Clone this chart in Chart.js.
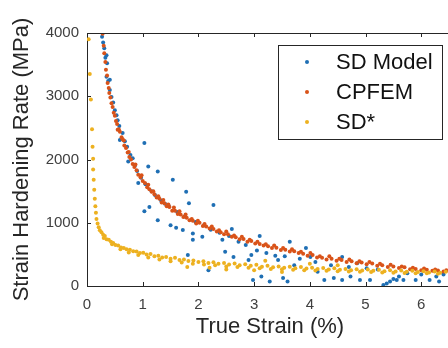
<!DOCTYPE html>
<html>
<head>
<meta charset="utf-8">
<script src="https://cdn.jsdelivr.net/npm/chart.js@4/dist/chart.umd.min.js"></script>
<style>
  html, body { margin: 0; padding: 0; overflow: hidden; background: #fff; }
  #wrap { width: 457px; height: 348px; }
</style>
</head>
<body>
<div id="wrap"><canvas id="c" width="457" height="348"></canvas></div>
<script>
// tick labels
const xTicks = [0, 1, 2, 3, 4, 5, 6];
const yTicks = [0, 1000, 2000, 3000, 4000];
const seriesNames = ['SD Model', 'CPFEM', 'SD*'];

// SD Model (blue)
const sdModelX = [0.27,0.29,0.31,0.33,0.35,0.36,0.35,0.38,0.41,0.41,0.44,0.47,0.50,0.53,0.55,0.58,0.59,0.64,0.68,0.72,
  0.74,0.78,0.82,0.86,0.90,0.92,0.97,1.03,1.05,1.10,1.12,1.03,1.16,1.22,1.27,1.27,1.33,1.40,1.47,1.50,
  1.54,1.60,1.62,1.72,1.75,1.78,1.83,1.81,1.90,1.90,1.95,2.07,2.10,2.18,2.22,2.27,2.38,2.43,2.48,2.55,
  2.60,2.63,2.72,2.85,2.90,2.95,2.98,3.05,3.10,3.13,3.22,3.28,3.38,3.43,3.52,3.55,3.60,3.64,3.72,3.82,
  3.93,4.01,4.10,4.14,4.26,4.38,4.43,4.58,4.58,4.70,4.73,4.85,4.90,5.02,5.08,5.22,5.32,5.38,5.44,5.50,
  5.56,5.60,5.68,5.75,5.90,6.00,6.15,6.27,6.32,6.40];
const sdModelY = [3940,3850,3760,3610,3650,3520,3310,3240,3260,3100,2990,2900,2780,2700,2620,2530,2310,2420,2290,2200,
  1970,2070,2020,1900,1820,1630,1710,2260,1610,1890,1250,1180,1500,1440,1810,1040,1350,1300,1260,960,
  1680,920,1170,885,1100,1490,1310,490,830,730,1010,780,960,250,890,1280,840,730,540,790,
  900,460,700,650,410,490,95,560,790,150,520,70,480,410,125,470,70,700,330,430,
  600,460,380,225,95,330,125,95,460,300,150,360,95,280,95,260,15,40,70,110,
  95,150,95,200,95,180,95,150,70,180];

// CPFEM (red)
const cpfemX = [0.28,0.30,0.31,0.33,0.34,0.36,0.37,0.39,0.40,0.42,0.44,0.46,0.48,0.50,0.52,0.54,0.57,0.59,0.62,0.64,
  0.67,0.70,0.73,0.76,0.79,0.82,0.85,0.89,0.92,0.96,1.00,1.04,1.08,1.12,1.16,1.21,1.25,1.30,1.34,1.39,
  1.43,1.48,1.53,1.58,1.63,1.68,1.73,1.79,1.84,1.90,1.96,2.02,2.08,2.14,2.20,2.27,2.33,2.40,2.46,2.53,
  2.60,2.67,2.74,2.81,2.88,2.95,3.02,3.10,3.17,3.25,3.32,3.40,3.48,3.56,3.64,3.72,3.80,3.88,3.96,4.05,
  4.13,4.22,4.30,4.39,4.48,4.57,4.66,4.75,4.84,4.93,5.02,5.12,5.21,5.30,5.40,5.50,5.60,5.70,5.80,5.90,
  6.00,6.10,6.20,6.30,6.40,6.50,
  0.55,0.66,0.75,0.87,0.98,1.10,1.19,1.28,1.37,1.46,1.56,1.66,1.77,1.88,1.99,2.11,2.24,2.37,2.50,2.64,
  2.78,2.92,3.06,3.21,3.36,3.52,3.68,3.84,4.01,4.18,4.35,4.53,4.71,4.89,5.07,5.26,5.45,5.65,5.85,6.05,
  6.25,6.45];
const cpfemY = [3990,3800,3680,3540,3420,3330,3210,3130,3050,2980,2890,2830,2740,2690,2610,2560,2480,2440,2350,2320,
  2220,2180,2110,2040,2000,1930,1880,1830,1760,1720,1660,1630,1560,1530,1490,1450,1400,1380,1320,1310,
  1260,1250,1190,1190,1140,1130,1090,1080,1040,1030,990,1000,950,940,910,900,860,850,820,820,
  780,770,740,745,700,710,670,665,640,630,600,605,570,575,545,550,520,510,480,490,
  450,445,420,430,400,410,380,390,360,370,345,355,320,330,300,310,285,295,265,270,
  250,255,240,245,230,235,
  2470,2300,2120,1920,1750,1600,1500,1420,1360,1290,1240,1180,1130,1060,1030,980,940,880,860,800,
  780,730,700,660,640,600,580,540,520,470,470,430,420,390,380,350,335,310,290,275,
  260,250];

// SD* (yellow)
const sdStarX = [0.03,0.05,0.07,0.09,0.10,0.11,0.11,0.12,0.13,0.14,0.15,0.16,0.17,0.19,0.21,0.23,0.26,0.29,0.32,0.35,
  0.39,0.43,0.47,0.51,0.56,0.61,0.66,0.71,0.77,0.83,0.89,0.95,1.01,1.07,1.14,1.21,1.28,1.35,1.42,1.50,
  1.58,1.66,1.74,1.82,1.91,2.00,2.09,2.18,2.27,2.36,2.46,2.55,2.65,2.74,2.84,2.94,3.04,3.14,3.24,3.34,
  3.44,3.54,3.64,3.74,3.84,3.94,4.04,4.14,4.24,4.34,4.44,4.54,4.64,4.74,4.84,4.94,5.04,5.14,5.24,5.34,
  5.44,5.54,5.64,5.74,5.84,5.94,6.04,6.14,6.24,6.34,6.44,1.80,2.20,2.50,3.00,3.20,3.50,4.00,4.50,
  0.30,0.45,0.60,0.75,0.92,1.10,1.30,1.50,1.70,1.90,2.10,2.30,2.50,2.70,2.90,3.10,3.30,3.50,3.70,3.90,
  4.10,4.30,4.50,4.70,4.90,5.10,5.30,5.50,5.70,5.90,6.10,6.30];
const sdStarY = [3900,3350,2950,2480,2200,2010,1840,1680,1520,1380,1260,1160,1060,990,930,880,850,810,790,740,
  730,700,680,650,640,610,600,580,575,550,545,520,525,500,505,470,480,450,460,430,
  445,410,420,395,405,380,390,365,375,350,365,340,355,330,345,320,335,305,320,295,
  310,290,305,280,300,275,290,270,285,260,280,255,270,250,265,245,260,240,255,235,
  250,230,245,225,240,220,235,215,230,210,225,300,290,260,250,400,220,350,330,
  760,660,580,530,490,450,420,390,370,350,340,330,310,300,290,280,270,265,255,250,
  245,240,235,230,225,220,215,210,205,200,200,195];

const xMax = 6.57;
const family = "'Liberation Sans', Arial, Helvetica, sans-serif";
const colors = ['#1f6fb4', '#d95319', '#edb120'];
const pts = (xs, ys) => xs.map((x, i) => ({ x: x, y: ys[i] }));

// inward ticks + top frame line, MATLAB style
const frame = {
  id: 'frame',
  afterDatasetsDraw(chart) {
    const { ctx, chartArea: a, scales: { x, y } } = chart;
    ctx.save();
    ctx.strokeStyle = '#262626';
    ctx.lineWidth = 1;
    ctx.beginPath();
    ctx.moveTo(a.left, a.top + 0.5);
    ctx.lineTo(a.right, a.top + 0.5);
    xTicks.forEach(v => {
      const px = Math.round(x.getPixelForValue(v)) + 0.5;
      ctx.moveTo(px, a.bottom); ctx.lineTo(px, a.bottom - 4);
      ctx.moveTo(px, a.top); ctx.lineTo(px, a.top + 4);
    });
    yTicks.forEach(v => {
      const py = Math.round(y.getPixelForValue(v)) + 0.5;
      ctx.moveTo(a.left, py); ctx.lineTo(a.left + 4, py);
    });
    ctx.stroke();
    ctx.restore();
  }
};

// legend box inside the axes
const legendBox = {
  id: 'legendBox',
  afterDraw(chart) {
    const ctx = chart.ctx;
    ctx.save();
    ctx.fillStyle = '#fff';
    ctx.fillRect(278.5, 45.5, 164, 94);
    ctx.strokeStyle = '#262626';
    ctx.lineWidth = 1;
    ctx.strokeRect(278.5, 45.5, 164, 94);
    ctx.font = '22px ' + family;
    ctx.textBaseline = 'middle';
    seriesNames.forEach((name, i) => {
      const cy = 62 + i * 30;
      ctx.fillStyle = colors[i];
      ctx.beginPath();
      ctx.arc(307, cy, 2, 0, Math.PI * 2);
      ctx.fill();
      ctx.fillStyle = '#111';
      ctx.fillText(name, 336, cy + 1);
    });
    ctx.restore();
  }
};

new Chart(document.getElementById('c'), {
  type: 'scatter',
  data: {
    datasets: [
      { label: seriesNames[0], data: pts(sdModelX, sdModelY), backgroundColor: colors[0], borderColor: colors[0], pointRadius: 2, borderWidth: 0, order: 3 },
      { label: seriesNames[1], data: pts(cpfemX, cpfemY), backgroundColor: colors[1], borderColor: colors[1], pointRadius: 2, borderWidth: 0, order: 2 },
      { label: seriesNames[2], data: pts(sdStarX, sdStarY), backgroundColor: colors[2], borderColor: colors[2], pointRadius: 2, borderWidth: 0, order: 1 }
    ]
  },
  options: {
    responsive: false,
    animation: false,
    layout: { padding: { top: 33, right: 0, bottom: 0, left: 0 } },
    plugins: { legend: { display: false }, tooltip: { enabled: false } },
    scales: {
      x: {
        type: 'linear', min: 0, max: xMax,
        afterFit(s) { s.height = 62; },
        afterBuildTicks(s) { s.ticks = xTicks.map(v => ({ value: v })); },
        grid: { display: false, drawTicks: false },
        border: { display: true, color: '#262626', width: 1 },
        ticks: { padding: 10, color: '#404040', font: { family: family, size: 15 }, callback: v => String(v) },
        title: { display: true, text: 'True Strain (%)', color: '#262626', font: { family: family, size: 22 }, padding: { top: 0, bottom: 8 } }
      },
      y: {
        type: 'linear', min: 0, max: 4000,
        afterFit(s) { s.width = 87; },
        afterBuildTicks(s) { s.ticks = yTicks.map(v => ({ value: v })); },
        grid: { display: false, drawTicks: false },
        border: { display: true, color: '#262626', width: 1 },
        ticks: { padding: 8, color: '#404040', font: { family: family, size: 15 }, callback: v => String(v) },
        title: { display: true, text: 'Strain Hardening Rate (MPa)', color: '#262626', font: { family: family, size: 22 }, padding: { top: 9, bottom: 0 } }
      }
    }
  },
  plugins: [frame, legendBox]
});
</script>
</body>
</html>
